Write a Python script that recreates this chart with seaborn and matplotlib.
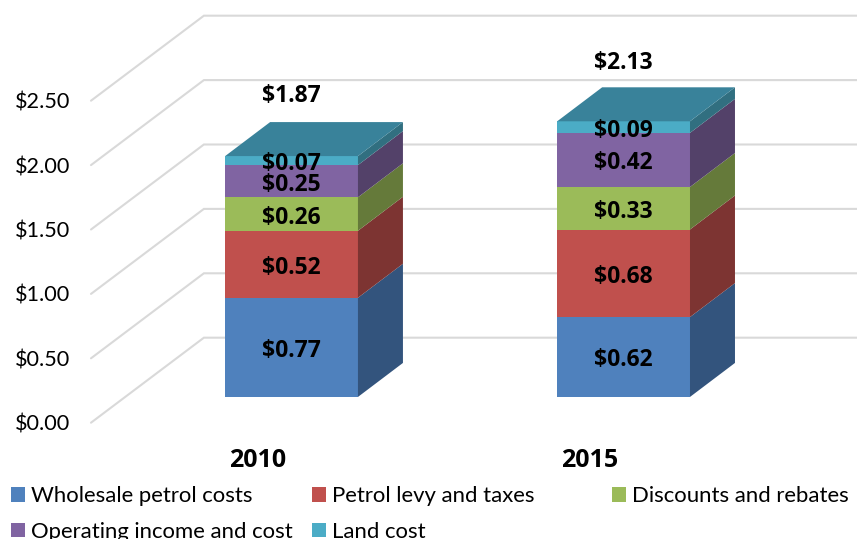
import numpy as np
import pandas as pd
import matplotlib.pyplot as plt
from matplotlib.patches import Polygon, Rectangle
import seaborn as sns

years = ['2010', '2015']
wholesale = [0.77, 0.62]
levy = [0.52, 0.68]
discounts = [0.26, 0.33]
operating = [0.25, 0.42]
land = [0.07, 0.09]
totals = [1.87, 2.13]
series_names = ['Wholesale petrol costs', 'Petrol levy and taxes', 'Discounts and rebates',
                'Operating income and cost', 'Land cost']
axis_ticks = [0.0, 0.5, 1.0, 1.5, 2.0, 2.5]

front_colors = ['#4F81BD', '#C0504D', '#9BBB59', '#8064A2', '#4BACC6']
side_colors = ['#33547D', '#7D3432', '#657A3A', '#534169', '#316F80']
top_color = '#39829A'
grid_color = '#D9D9D9'
bold_font = ['Open Sans', 'DejaVu Sans']

sns.set_style('white')
plt.rcParams['font.family'] = ['Lato', 'DejaVu Sans']
plt.rcParams['text.color'] = 'black'

W, H = 857, 539
fig = plt.figure(figsize=(W / 100, H / 100), dpi=100)
ax = fig.add_axes([91 / W, (H - 422.7) / H, (W - 91) / W, 422.7 / H])

# fake 3d depth, in data units
lift_x, lift_y = 0.1024, 0.2
depth_x, depth_y = 0.1355, 0.264
wall_x, wall_y = 0.34, 0.66
xmin, xmax = -0.604, 1.703

df = pd.DataFrame({'year': years, 'wholesale': wholesale, 'levy': levy, 'discounts': discounts,
                   'operating': operating, 'land': land})
columns = ['wholesale', 'levy', 'discounts', 'operating', 'land']

bottom = np.full(len(years), lift_y)
for i, col in enumerate(columns):
    n_before = len(ax.containers)
    sns.barplot(data=df, x='year', y=col, bottom=bottom, width=0.4, color=front_colors[i],
                saturation=1, errorbar=None, linewidth=0, ax=ax)
    for rect, val in zip(ax.containers[n_before], df[col]):
        x0 = rect.get_x()
        x1 = x0 + rect.get_width()
        y0 = rect.get_y()
        y1 = y0 + rect.get_height()
        ax.add_patch(Polygon([(x1, y0), (x1 + depth_x, y0 + depth_y), (x1 + depth_x, y1 + depth_y), (x1, y1)],
                             closed=True, color=side_colors[i], lw=0))
        if col == 'land':
            ax.add_patch(Polygon([(x0, y1), (x0 + depth_x, y1 + depth_y), (x1 + depth_x, y1 + depth_y), (x1, y1)],
                                 closed=True, color=top_color, lw=0))
        # labels sit a little under the middle of the segment
        ax.text(x0 + rect.get_width() / 2, (y0 + y1) / 2 - 0.027, f'${val:.2f}', ha='center', va='center',
                fontsize=16.5, fontweight='bold', family=bold_font, color='black', zorder=5)
    bottom = bottom + df[col].values

for i, total in enumerate(totals):
    ax.text(i, lift_y + total + 0.465, f'${total:.2f}', ha='center', va='center',
            fontsize=16.5, fontweight='bold', family=bold_font, color='black', zorder=5)

# walls
for v in axis_ticks:
    ax.plot([xmin, xmin + wall_x, xmax], [v, v + wall_y, v + wall_y], color=grid_color, lw=1.5,
            zorder=0, clip_on=False, solid_joinstyle='miter')

ax.set_xlim(xmin, xmax)
ax.set_ylim(0, 422.7 / 128.8)
ax.set_yticks(axis_ticks, [f'${v:.2f}' for v in axis_ticks])
ax.set_xticks(np.arange(len(years)) - lift_x, years)
ax.tick_params(axis='y', length=0, pad=15, labelsize=15.6, labelcolor='black')
ax.tick_params(axis='x', length=0, pad=18.5, labelsize=18, labelcolor='black')
for t in ax.get_xticklabels():
    t.set_fontweight('bold')
    t.set_family(bold_font)
ax.set_xlabel('')
ax.set_ylabel('')
ax.patch.set_alpha(0)
sns.despine(ax=ax, left=True, bottom=True)

# legend, three separate columns so they sit where the original has them
handles = [Rectangle((0, 0), 1, 1, color=c, lw=0) for c in front_colors]
legend_cols = [(11, [0, 3]), (312, [1, 4]), (612, [2])]
for x_px, idx in legend_cols:
    fig.legend([handles[j] for j in idx], [series_names[j] for j in idx], loc='upper left',
               bbox_to_anchor=(x_px / W, 1 - 486 / H), frameon=False, fontsize=15.9, borderpad=0,
               borderaxespad=0, handlelength=0.64, handleheight=0.64, handletextpad=0.28, labelspacing=0.72)

fig.savefig('out.png', dpi=100)
